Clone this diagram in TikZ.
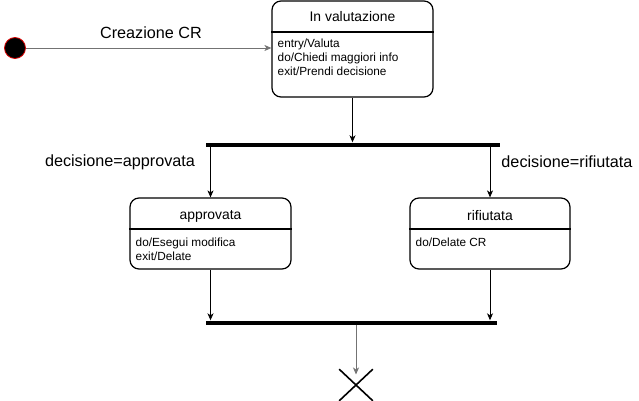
\documentclass[tikz,border=0pt]{standalone}
\usepackage{fontspec}
\setmainfont{Liberation Sans}
\usetikzlibrary{arrows.meta,shapes.misc}
\tikzset{
  statebox/.style={draw=black, line width=1.2pt, rounded corners=9pt, inner sep=0pt},
  sttitle/.style={font=\fontsize{13.9}{16}\selectfont, inner sep=0pt},
  stbody/.style={font=\fontsize{11.8}{14.3}\selectfont, align=left, inner sep=0pt, anchor=north west},
  barnode/.style={fill=black, inner sep=0pt, minimum height=4pt},
  trans/.style={-{Stealth[length=7pt,width=6pt,inset=2pt]}, line width=0.8pt},
  greytrans/.style={trans, draw=gray!90!black},
  guard/.style={font=\fontsize{16.2}{18}\selectfont, inner sep=0pt},
}
\begin{document}
\begin{tikzpicture}[x=1pt,y=-1pt]
\useasboundingbox (0,0) rectangle (639,401);
% initial state
\node[circle, fill=black, draw=red!85!black, line width=0.8pt, minimum size=21pt, inner sep=0pt] (init) at (15,48) {};
% In valutazione
\node[statebox, minimum width=161pt, minimum height=96pt] (val) at (352.5,49) {};
\node[sttitle] (valt) at (352.5,17) {In valutazione};
\draw[line width=1.2pt] (val.west |- 0,32) -- (val.east |- 0,32);
\node[stbody] (valb) at (277.5,38.5) {entry/Valuta\\do/Chiedi maggiori info\\exit/Prendi decisione};
% transition label
\node[guard] (lcr) at (151,33) {Creazione CR};
\draw[greytrans] (init) -- (val.west |- init);
% top bar
\node[barnode, minimum width=294pt] (bar1) at (353,144.5) {};
\draw[trans] (val.south) -- (val.south |- bar1.north);
% approvata
\node[statebox, minimum width=161pt, minimum height=71pt] (app) at (210.5,233.5) {};
\node[sttitle] (appt) at (210.5,216) {approvata};
\draw[line width=1.2pt] (app.west |- 0,229) -- (app.east |- 0,229);
\node[stbody] (appb) at (135.5,237.5) {do/Esegui modifica\\exit/Delate};
% rifiutata
\node[statebox, minimum width=160pt, minimum height=71pt] (rif) at (490,233.5) {};
\node[sttitle] (rift) at (490,216) {rifiutata};
\draw[line width=1.2pt] (rif.west |- 0,229) -- (rif.east |- 0,229);
\node[stbody] (rifb) at (415.5,237.5) {do/Delate CR};
% guards
\node[guard] (g1) at (120,162) {decisione=approvata};
\node[guard] (g2) at (567,162) {decisione=rifiutata};
\draw[trans] (bar1.south -| app.north) -- (app.north);
\draw[trans] (bar1.south -| rif.north) -- (rif.north);
% bottom bar
\node[barnode, minimum width=291pt] (bar2) at (351.5,322.5) {};
\draw[trans] (app.south) -- (app.south |- bar2.north);
\draw[trans] (rif.south) -- (rif.south |- bar2.north);
% final
\node[cross out, draw=black, line width=1.6pt, minimum width=32pt, minimum height=30pt, inner sep=0pt] (fin) at (356,385) {};
\coordinate (finend) at (356,374.5);
\draw[greytrans] (bar2.south -| finend) -- (finend);
\end{tikzpicture}
\end{document}
